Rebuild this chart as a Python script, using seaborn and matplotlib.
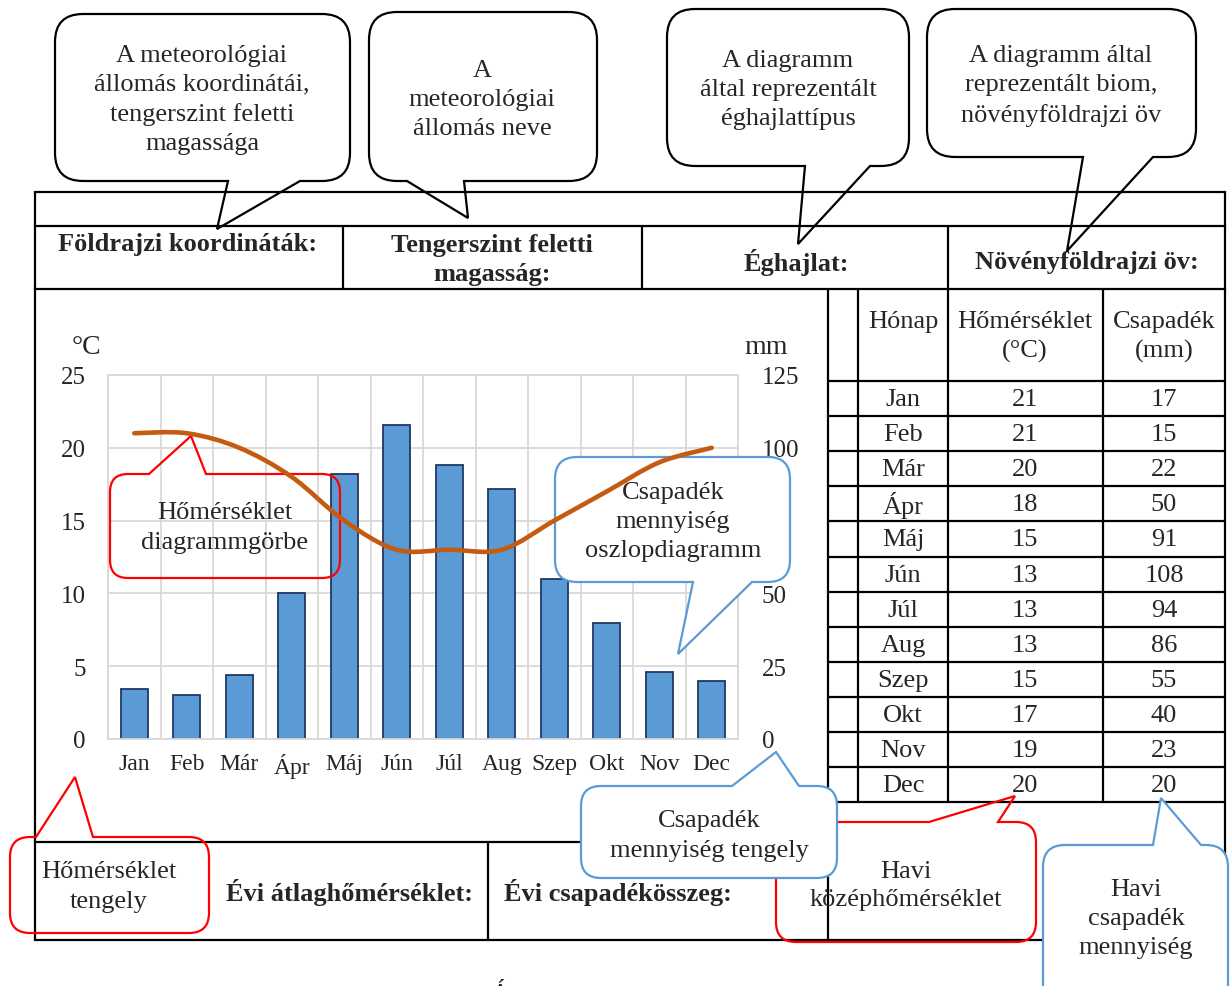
import numpy as np
import matplotlib
matplotlib.use('Agg')
import matplotlib.pyplot as plt
from matplotlib.path import Path
from matplotlib.patches import PathPatch
import seaborn as sns

# climate data of the station
months = ['Jan', 'Feb', 'Már', 'Ápr', 'Máj', 'Jún', 'Júl', 'Aug', 'Szep', 'Okt', 'Nov', 'Dec']
temperature = [21, 21, 20, 18, 15, 13, 13, 13, 15, 17, 19, 20]
precipitation = [17, 15, 22, 50, 91, 108, 94, 86, 55, 40, 23, 20]
temp_ticks = [0, 5, 10, 15, 20, 25]
precip_ticks = [0, 25, 50, 75, 100, 125]

W, H = 1230, 987
FONT = ['Liberation Serif', 'DejaVu Serif']
RED = '#FF0000'
BLUE = '#5B9BD5'
LS = 1.42


def callout_path(x0, y0, x1, y1, r, side, base_a, tip, base_b):
    '''rounded box with a pointer, pixel coords (y down)'''
    verts = [(x0 + r, y0)]
    codes = [Path.MOVETO]

    def line(p):
        verts.append(p)
        codes.append(Path.LINETO)

    def corner(c, p):
        verts.extend([c, p])
        codes.extend([Path.CURVE3, Path.CURVE3])

    if side == 'top':
        line((base_a, y0)); line(tip); line((base_b, y0))
    line((x1 - r, y0)); corner((x1, y0), (x1, y0 + r))
    line((x1, y1 - r)); corner((x1, y1), (x1 - r, y1))
    if side == 'bottom':
        line((base_b, y1)); line(tip); line((base_a, y1))
    line((x0 + r, y1)); corner((x0, y1), (x0, y1 - r))
    line((x0, y0 + r)); corner((x0, y0), (x0 + r, y0))
    verts.append((x0 + r, y0))
    codes.append(Path.CLOSEPOLY)
    return Path(verts, codes)


def smooth_path(xs, ys):
    '''smoothed line through the data points (like Excel)'''
    pts = np.column_stack([xs, ys]).astype(float)
    n = len(pts)
    verts = [pts[0]]
    codes = [Path.MOVETO]
    for i in range(n - 1):
        p_prev = pts[max(i - 1, 0)]
        p_next = pts[min(i + 2, n - 1)]
        c1 = pts[i] + (pts[i + 1] - p_prev) / 6
        c2 = pts[i + 1] - (p_next - pts[i]) / 6
        verts += [c1, c2, pts[i + 1]]
        codes += [Path.CURVE4] * 3
    return Path(verts, codes)


def add_callout(target, trans, box, r, side, base_a, tip, base_b, text, center,
                color, fill='none', z=2, fs=19, ls=LS):
    path = callout_path(*box, r, side, base_a, tip, base_b)
    target.add_patch(PathPatch(path, facecolor=fill, edgecolor=color, lw=1.6,
                               transform=trans, clip_on=False, zorder=z))
    target.text(center[0], center[1], text, transform=trans, ha='center', va='center',
                fontsize=fs, linespacing=ls, zorder=z + 0.5, clip_on=False)


sns.set_theme(style='white')
plt.rcParams['font.family'] = FONT

fig = plt.figure(figsize=(W / 100, H / 100), dpi=100)
fig.patch.set_facecolor('white')

# overlay in pixel coordinates for the table and the callouts
ov = fig.add_axes([0, 0, 1, 1], zorder=5)
ov.set_xlim(0, W)
ov.set_ylim(H, 0)
ov.axis('off')
T = ov.transData

# ---- chart ----
ax = fig.add_axes([108 / W, 1 - 740 / H, 630 / W, 364 / H])
ax.set_facecolor('none')
sns.barplot(x=months, y=precipitation, color=BLUE, saturation=1, width=0.52,
            edgecolor='#203864', linewidth=1.3, ax=ax, zorder=2)
ax.set_xlabel('')
ax.set_ylabel('')
ax.set_xlim(-0.5, 11.5)
ax.set_ylim(0, 125)
ax.set_yticks(precip_ticks)
ax.set_xticks(np.arange(-0.5, 12, 1), minor=True)
ax.set_axisbelow(True)
ax.grid(axis='y', color='#D9D9D9', lw=1.3)
ax.grid(axis='x', which='minor', color='#D9D9D9', lw=1.3)
ax.grid(axis='x', which='major', visible=False)
for s in ax.spines.values():
    s.set_color('#D9D9D9')
    s.set_linewidth(1.3)

ax2 = ax.twinx()
# twinx moves the host ticks to the left, so put them back on the right
ax.yaxis.tick_right()
ax2.yaxis.tick_left()
ax.tick_params(axis='x', which='both', length=0, pad=10, labelsize=17)
ax.tick_params(axis='y', length=0, pad=17, labelsize=18)
for s in ax2.spines.values():
    s.set_visible(False)

# chart callouts (below the temperature curve)
add_callout(ax2, T, (555, 458, 790, 583), 22, 'bottom', 693, (678, 655), 752,
            'Csapadék\nmennyiség\noszlopdiagramm', (673, 522), BLUE, fill='white', z=1)
add_callout(ax2, T, (110, 475, 340, 579), 18, 'top', 149, (191, 437), 206,
            'Hőmérséklet\ndiagrammgörbe', (225, 528), RED, z=1)

ax2.add_patch(PathPatch(smooth_path(range(len(months)), temperature), fill=False,
                        edgecolor='#C55A11', lw=3.3, capstyle='round', zorder=4))
ax2.set_xlim(-0.5, 11.5)
ax2.set_ylim(0, 25)
ax2.set_yticks(temp_ticks)
ax2.tick_params(axis='y', length=0, pad=16, labelsize=18)

ov.text(86, 347, '°C', ha='center', va='center', fontsize=20)
ov.text(766, 348, 'mm', ha='center', va='center', fontsize=20)

# ---- table frame ----
lw = 1.6
hlines = [(193, 35, 1225), (227, 35, 1225), (290, 35, 1225), (843, 35, 828), (941, 35, 1225)]
for y, xa, xb in hlines:
    ov.plot([xa, xb], [y, y], color='black', lw=lw, zorder=1, solid_capstyle='projecting')
row_lines = [382 + 35.1 * i for i in range(13)]
for y in row_lines:
    ov.plot([828, 1225], [y, y], color='black', lw=lw, zorder=1)
vlines = [(35, 193, 941), (1225, 193, 941), (343, 227, 290), (642, 227, 290),
          (948, 227, 803), (828, 290, 941), (858, 290, 803), (1103, 290, 803), (488, 843, 941)]
for x, ya, yb in vlines:
    ov.plot([x, x], [ya, yb], color='black', lw=lw, zorder=1)

bold = dict(ha='center', va='center', fontsize=19, fontweight='bold')
ov.text(188, 245, 'Földrajzi koordináták:', **bold)
ov.text(492, 260, 'Tengerszint feletti\nmagasság:', linespacing=1.38, **bold)
ov.text(796, 262, 'Éghajlat:', **bold)
ov.text(1087, 262, 'Növényföldrajzi öv:', **bold)
ov.text(349, 893, 'Évi átlaghőmérséklet:', **bold)
ov.text(618, 893, 'Évi csapadékösszeg:', **bold)

# monthly data table
cell = dict(ha='center', va='center', fontsize=19)
ov.text(903, 322, 'Hónap', **cell)
ov.text(1025, 337, 'Hőmérséklet\n(°C)', linespacing=1.38, **cell)
ov.text(1164, 337, 'Csapadék\n(mm)', linespacing=1.38, **cell)
for i, m in enumerate(months):
    yc = 382 + 35.1 * i + 18
    ov.text(903, yc, m, **cell)
    ov.text(1025, yc, str(temperature[i]), **cell)
    ov.text(1164, yc, str(precipitation[i]), **cell)

# ---- callouts around the table ----
add_callout(ov, T, (55, 15, 350, 182), 28, 'bottom', 228, (217, 230), 300,
            'A meteorológiai\nállomás koordinátái,\ntengerszint feletti\nmagassága', (202, 100),
            'black', z=3)
add_callout(ov, T, (369, 13, 597, 182), 28, 'bottom', 407, (468, 219), 464,
            'A\nmeteorológiai\nállomás neve', (482, 100), 'black', z=3)
add_callout(ov, T, (667, 10, 909, 167), 28, 'bottom', 805, (798, 245), 870,
            'A diagramm\náltal reprezentált\néghajlattípus', (788, 90), 'black', z=3)
add_callout(ov, T, (927, 10, 1196, 158), 28, 'bottom', 1083, (1067, 252), 1153,
            'A diagramm által\nreprezentált biom,\nnövényföldrajzi öv', (1061, 86), 'black', z=3)

add_callout(ov, T, (10, 838, 209, 934), 20, 'top', 36, (75, 778), 93,
            'Hőmérséklet\ntengely', (109, 887), RED, z=3)
add_callout(ov, T, (776, 823, 1036, 943), 20, 'top', 929, (1015, 797), 998,
            'Havi\nközéphőmérséklet', (906, 886), RED, z=3, ls=1.3)
add_callout(ov, T, (581, 787, 837, 879), 20, 'top', 732, (776, 753), 799,
            'Csapadék\nmennyiség tengely', (709, 836), BLUE, fill='white', z=4)
add_callout(ov, T, (1043, 846, 1228, 1010), 22, 'top', 1153, (1161, 799), 1201,
            'Havi\ncsapadék\nmennyiség', (1136, 919), BLUE, fill='white', z=4)

# cut-off title letter at the lower edge
ov.text(500, 1001, 'Á', ha='center', va='baseline', fontsize=19)

fig.savefig('out.png', dpi=100, facecolor='white')
